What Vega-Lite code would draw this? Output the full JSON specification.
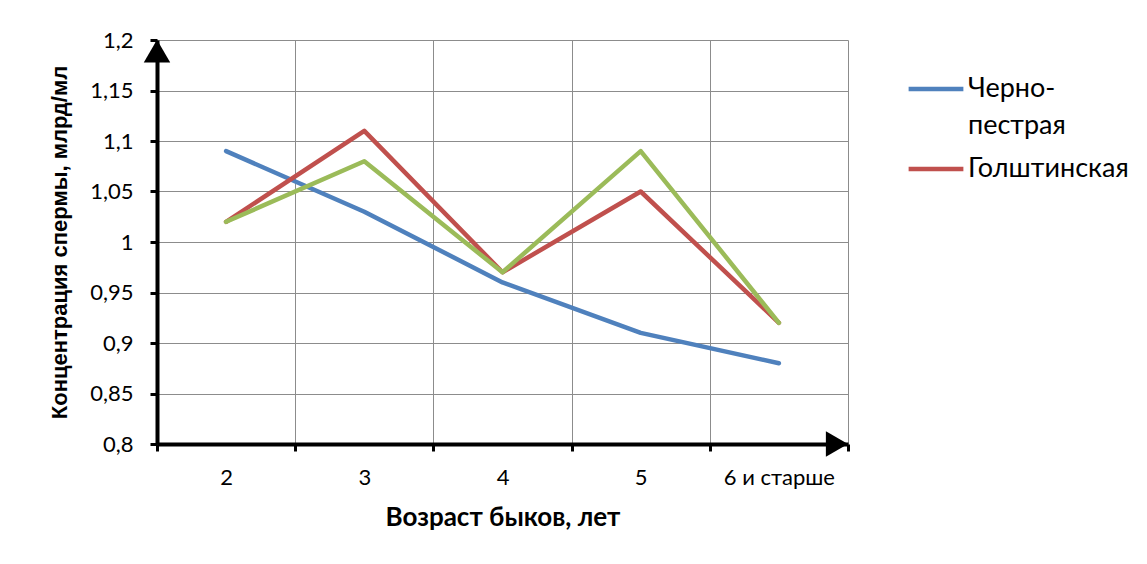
{
  "$schema": "https://vega.github.io/schema/vega-lite/v6.json",
  "width": 691,
  "height": 404,
  "autosize": {"type": "none"},
  "padding": {"left": 157, "top": 40, "right": 299, "bottom": 120},
  "background": "white",
  "config": {"font": "Lato", "view": {"stroke": null}},
  "datasets": {
    "series": [
      {"age": 2, "conc": 1.09, "breed": "Черно-пестрая"},
      {"age": 3, "conc": 1.03, "breed": "Черно-пестрая"},
      {"age": 4, "conc": 0.96, "breed": "Черно-пестрая"},
      {"age": 5, "conc": 0.91, "breed": "Черно-пестрая"},
      {"age": 6, "conc": 0.88, "breed": "Черно-пестрая"},
      {"age": 2, "conc": 1.02, "breed": "Голштинская"},
      {"age": 3, "conc": 1.11, "breed": "Голштинская"},
      {"age": 4, "conc": 0.97, "breed": "Голштинская"},
      {"age": 5, "conc": 1.05, "breed": "Голштинская"},
      {"age": 6, "conc": 0.92, "breed": "Голштинская"},
      {"age": 2, "conc": 1.02, "breed": "Третья"},
      {"age": 3, "conc": 1.08, "breed": "Третья"},
      {"age": 4, "conc": 0.97, "breed": "Третья"},
      {"age": 5, "conc": 1.09, "breed": "Третья"},
      {"age": 6, "conc": 0.92, "breed": "Третья"}
    ]
  },
  "layer": [
    {
      "data": {"name": "series"},
      "transform": [{"filter": "datum.breed != 'Третья'"}],
      "mark": {"type": "line", "strokeWidth": 4.5, "strokeCap": "round", "strokeJoin": "round"},
      "encoding": {
        "x": {
          "field": "age", "type": "quantitative",
          "scale": {"domain": [1.5, 6.5], "nice": false, "zero": false},
          "axis": {
            "title": "Возраст быков, лет",
            "titleFontSize": 26, "titleFontWeight": "bold", "titleColor": "black", "titlePadding": 16,
            "values": [1.5, 2, 2.5, 3, 3.5, 4, 4.5, 5, 5.5, 6, 6.5],
            "labelExpr": "datum.value % 1 == 0.5 ? '' : (datum.value == 6 ? '6 и старше' : format(datum.value, 'd'))",
            "labelFontSize": 22, "labelColor": "black", "labelPadding": 16,
            "domainColor": "black", "domainWidth": 4,
            "tickColor": "black", "tickWidth": 3, "tickSize": 7,
            "tickOpacity": {"condition": {"test": "datum.value % 1 == 0.5", "value": 1}, "value": 0},
            "grid": true, "gridColor": "#8c8c8c", "gridWidth": 1,
            "gridOpacity": {"condition": {"test": "datum.value % 1 == 0.5", "value": 1}, "value": 0}
          }
        },
        "y": {
          "field": "conc", "type": "quantitative",
          "scale": {"domain": [0.8, 1.2], "nice": false, "zero": false},
          "axis": {
            "title": "Концентрация спермы, млрд/мл",
            "titleFont": "Liberation Sans",
            "titleFontSize": 22, "titleFontWeight": "bold", "titleColor": "black", "titlePadding": 18,
            "values": [0.8, 0.85, 0.9, 0.95, 1, 1.05, 1.1, 1.15, 1.2],
            "labelExpr": "replace(format(datum.value, '.2~f'), '.', ',')",
            "labelFontSize": 22, "labelColor": "black", "labelPadding": 17,
            "domainColor": "black", "domainWidth": 4,
            "tickColor": "black", "tickWidth": 3, "tickSize": 7,
            "grid": true, "gridColor": "#8c8c8c", "gridWidth": 1
          }
        },
        "color": {
          "field": "breed", "type": "nominal",
          "scale": {"domain": ["Черно-пестрая", "Голштинская"], "range": ["#4F81BD", "#C0504D"]},
          "legend": {
            "title": null,
            "orient": "none", "legendX": 749, "legendY": 19,
            "symbolType": "stroke", "symbolSize": 3000, "symbolStrokeWidth": 4.5,
            "labelFontSize": 27, "labelColor": "black", "labelOffset": 2, "labelLimit": 400,
            "labelExpr": "datum.label == 'Черно-пестрая' ? ['Черно-', 'пестрая'] : datum.label",
            "labelBaseline": "middle", "rowPadding": -5,
            "encode": {"labels": {"update": {"lineHeight": {"value": 37}}}}
          }
        }
      }
    },
    {
      "data": {"name": "series"},
      "transform": [{"filter": "datum.breed == 'Третья'"}],
      "mark": {"type": "line", "strokeWidth": 4.5, "strokeCap": "round", "strokeJoin": "round", "color": "#9BBB59"},
      "encoding": {
        "x": {"field": "age", "type": "quantitative"},
        "y": {"field": "conc", "type": "quantitative"}
      }
    },
    {
      "data": {"values": [{}]},
      "mark": {"type": "point", "shape": "triangle-up", "size": 700, "filled": true, "color": "black", "opacity": 1},
      "encoding": {
        "x": {"datum": 1.5, "type": "quantitative"},
        "y": {"datum": 1.189, "type": "quantitative"}
      }
    },
    {
      "data": {"values": [{}]},
      "mark": {"type": "point", "shape": "triangle-right", "size": 650, "filled": true, "color": "black", "opacity": 1},
      "encoding": {
        "x": {"datum": 6.42, "type": "quantitative"},
        "y": {"datum": 0.8, "type": "quantitative"}
      }
    }
  ]
}
